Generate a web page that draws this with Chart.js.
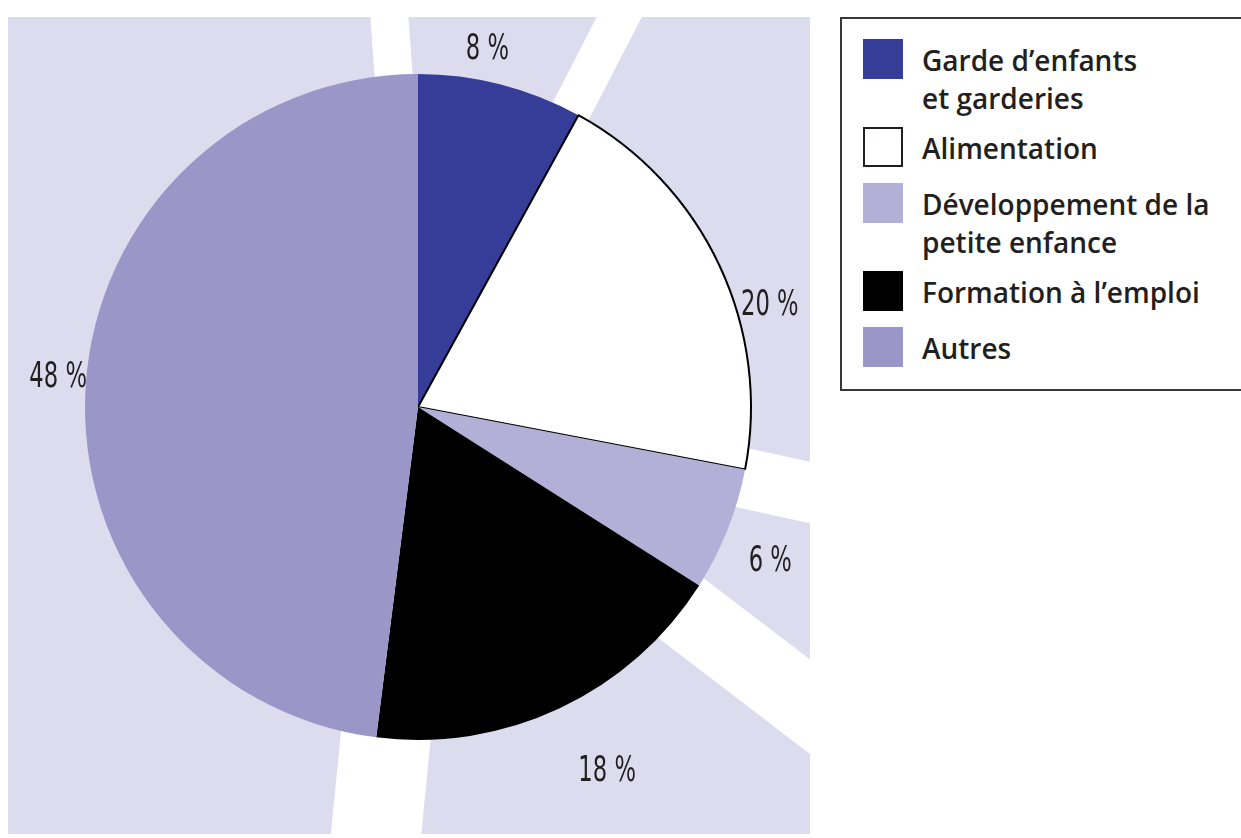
<!DOCTYPE html>
<html lang="fr">
<head>
    <meta charset="UTF-8">
    <title>Répartition</title>
    <script src="https://cdn.jsdelivr.net/npm/chart.js"></script>
    <style>
        body {
            margin: 0;
            background: #fff;
            width: 1241px;
            height: 838px;
            overflow: hidden;
            position: relative;
            font-family: "Open Sans", Arial, sans-serif;
        }
        #pie {
            position: absolute;
            left: 0;
            top: 0;
        }
        #legend {
            position: absolute;
            left: 840px;
            top: 17px;
            width: 430px;
            height: 374px;
            border: 2px solid #383838;
            background: #fff;
            box-sizing: border-box;
            padding: 20px 0 0 21px;
        }
        .item { display: flex; align-items: flex-start; min-height: 46px; margin-bottom: 10px; }
        .item.two { margin-bottom: 12px; }
        .swatch { width: 40px; height: 40px; flex: none; box-sizing: border-box; margin-right: 19px; }
        .txt { font-size: 28px; font-weight: 600; line-height: 38px; color: #231f20; position: relative; top: 2px; }
    </style>
</head>
<body>
    <canvas id="pie" width="870" height="838"></canvas>
    <div id="legend"></div>

    <script>
        // categories (legend text, line breaks as in the original)
        const categories = [
            ["Garde d\u2019enfants", "et garderies"],
            ["Alimentation"],
            ["D\u00e9veloppement de la", "petite enfance"],
            ["Formation \u00e0 l\u2019emploi"],
            ["Autres"]
        ];
        const shares = [8, 20, 6, 18, 48];
        const sliceColors = ["#363d98", "#ffffff", "#b2b0d7", "#000000", "#9a96c8"];

        // light background wedges behind the pie, with white gaps on slice edges
        const wedgeBackdrop = {
            id: "wedgeBackdrop",
            beforeDatasetsDraw(chart, args, opts) {
                const arcs = chart.getDatasetMeta(0).data;
                if (!arcs.length) return;
                const ctx = chart.ctx;
                const cx = arcs[0].x, cy = arcs[0].y;
                ctx.save();
                ctx.beginPath();
                ctx.rect(opts.left, opts.top, opts.right - opts.left, opts.bottom - opts.top);
                ctx.clip();
                ctx.fillStyle = opts.color;
                arcs.forEach(a => {
                    ctx.beginPath();
                    ctx.moveTo(cx, cy);
                    ctx.arc(cx, cy, 2000, a.startAngle, a.endAngle);
                    ctx.closePath();
                    ctx.fill();
                });
                ctx.strokeStyle = "#fff";
                arcs.forEach((a, i) => {
                    const ang = a.startAngle + opts.shift[i] * Math.PI / 180;
                    ctx.lineWidth = opts.gap[i];
                    ctx.beginPath();
                    ctx.moveTo(cx, cy);
                    ctx.lineTo(cx + 2000 * Math.cos(ang), cy + 2000 * Math.sin(ang));
                    ctx.stroke();
                });
                ctx.restore();
            }
        };

        // percentage labels around the pie, condensed
        const pctLabels = {
            id: "pctLabels",
            afterDatasetsDraw(chart, args, opts) {
                const meta = chart.getDatasetMeta(0);
                const ctx = chart.ctx;
                ctx.save();
                ctx.fillStyle = opts.color;
                ctx.font = opts.font;
                ctx.textAlign = "center";
                ctx.textBaseline = "middle";
                meta.data.forEach((a, i) => {
                    const mid = (a.startAngle + a.endAngle) / 2 + opts.nudge[i] * Math.PI / 180;
                    const r = opts.radius[i];
                    const x = a.x + r * Math.cos(mid);
                    const y = a.y + r * Math.sin(mid);
                    ctx.save();
                    ctx.translate(x, y);
                    ctx.scale(0.72, 1);
                    ctx.fillText(chart.data.datasets[0].data[i] + " %", 0, 0);
                    ctx.restore();
                });
                ctx.restore();
            }
        };

        const chart = new Chart(document.getElementById("pie"), {
            type: "pie",
            data: {
                labels: categories,
                datasets: [{
                    data: shares,
                    backgroundColor: sliceColors,
                    borderColor: ["#363d98", "#000000", "#b2b0d7", "#000000", "#9a96c8"],
                    borderWidth: [0, 2, 0, 0, 0]
                }]
            },
            options: {
                responsive: false,
                animation: false,
                devicePixelRatio: 1,
                layout: { padding: { left: 84, right: 118, top: 73, bottom: 97 } },
                plugins: {
                    legend: { display: false },
                    tooltip: { enabled: false },
                    wedgeBackdrop: {
                        color: "#dddcee", left: 8, top: 17, right: 810, bottom: 834,
                        gap: [38, 40, 60, 75, 90],
                        shift: [-4.2, -1.5, 1.5, 5, -1.6]
                    },
                    pctLabels: {
                        color: "#231f20",
                        font: '35px "Liberation Sans Narrow", "DejaVu Sans Condensed", sans-serif',
                        nudge: [-3.4, 9.2, 2.2, -2.2, 1],
                        radius: [364, 366, 385, 411, 361]
                    }
                }
            },
            plugins: [wedgeBackdrop, pctLabels]
        });

        // HTML legend built from the chart data
        const legendEl = document.getElementById("legend");
        chart.data.labels.forEach((lines, i) => {
            const item = document.createElement("div");
            item.className = lines.length > 1 ? "item two" : "item";
            const sw = document.createElement("div");
            sw.className = "swatch";
            sw.style.background = sliceColors[i];
            if (sliceColors[i] === "#ffffff") sw.style.border = "2px solid #231f20";
            const txt = document.createElement("div");
            txt.className = "txt";
            lines.forEach((l, k) => {
                if (k) txt.appendChild(document.createElement("br"));
                txt.appendChild(document.createTextNode(l));
            });
            item.appendChild(sw);
            item.appendChild(txt);
            legendEl.appendChild(item);
        });
    </script>
</body>
</html>
